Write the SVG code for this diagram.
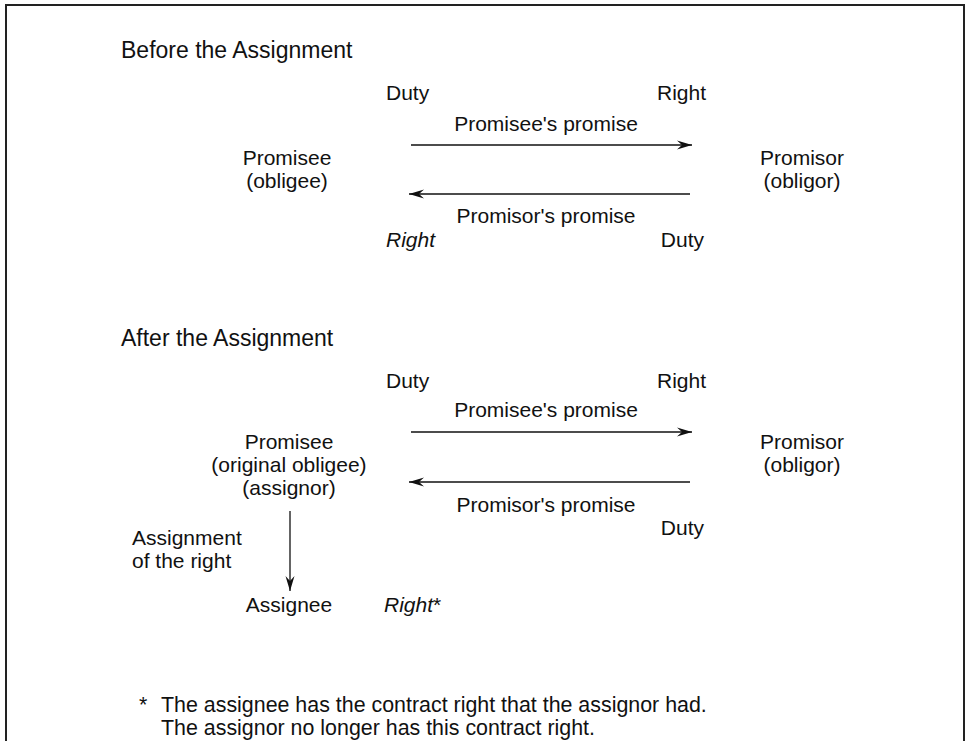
<svg xmlns="http://www.w3.org/2000/svg" width="969" height="741" viewBox="0 0 969 741">
<style>
text{font-family:"Liberation Sans",Arial,Helvetica,sans-serif;font-size:21px;fill:#111}
.h{font-size:23px}
.f{font-size:21.4px}
.m{text-anchor:middle}
.e{text-anchor:end}
.i{font-style:italic}
.c{stroke:#111;stroke-width:1.3;fill:none}
</style>
<defs>
<marker id="ah" markerUnits="userSpaceOnUse" markerWidth="16" markerHeight="12" viewBox="-15 -6 16 12" refX="0" refY="0" orient="auto">
<path d="M0,0 L-15,-4.5 L-10,0 L-15,4.5 Z" fill="#111"/>
</marker>
</defs>
<rect x="6" y="5" width="958" height="760" fill="#fff" stroke="#222" stroke-width="2"/>
<g id="before">
<text class="h" x="121" y="58">Before the Assignment</text>
<g id="promisee1"><text class="m" x="287" y="165">Promisee</text><text class="m" x="287" y="188">(obligee)</text></g>
<g id="promisor1"><text class="m" x="802" y="165">Promisor</text><text class="m" x="802" y="188">(obligor)</text></g>
<text x="386" y="100">Duty</text>
<text class="e" x="706" y="100">Right</text>
<text class="m" x="546" y="131">Promisee's promise</text>
<text class="m" x="546" y="223">Promisor's promise</text>
<text class="i" x="386" y="247">Right</text>
<text class="e" x="704" y="247">Duty</text>
</g>
<g id="after">
<text class="h" x="121" y="346">After the Assignment</text>
<g id="promisee2"><text class="m" x="289" y="449">Promisee</text><text class="m" x="289" y="472">(original obligee)</text><text class="m" x="289" y="495">(assignor)</text></g>
<g id="promisor2"><text class="m" x="802" y="449">Promisor</text><text class="m" x="802" y="472">(obligor)</text></g>
<g id="assignee"><text class="m" x="289" y="612">Assignee</text></g>
<text x="386" y="388">Duty</text>
<text class="e" x="706" y="388">Right</text>
<text class="m" x="546" y="417">Promisee's promise</text>
<text class="m" x="546" y="512">Promisor's promise</text>
<text class="e" x="704" y="535">Duty</text>
<text x="132" y="545">Assignment</text>
<text x="132" y="568">of the right</text>
<text x="384" y="612"><tspan class="i">Right</tspan>*</text>
</g>
<g id="connectors">
<line class="c" x1="411" y1="145" x2="692" y2="145" marker-end="url(#ah)"/>
<line class="c" x1="690" y1="194" x2="409" y2="194" marker-end="url(#ah)"/>
<line class="c" x1="411" y1="432" x2="692" y2="432" marker-end="url(#ah)"/>
<line class="c" x1="690" y1="482" x2="409" y2="482" marker-end="url(#ah)"/>
<line class="c" x1="290" y1="511" x2="290" y2="591" marker-end="url(#ah)"/>
</g>
<g id="footnote">
<text class="f" x="139" y="712">*</text>
<text class="f" x="161" y="712">The assignee has the contract right that the assignor had.</text>
<text class="f" x="161" y="735">The assignor no longer has this contract right.</text>
</g>
</svg>
